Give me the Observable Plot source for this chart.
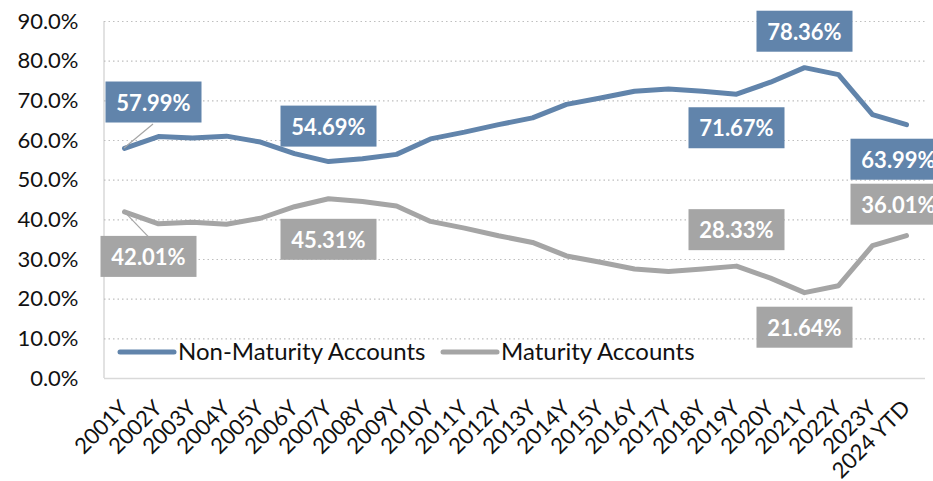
<!DOCTYPE html>
<html>
<head>
<meta charset="utf-8">
<script src="https://cdn.jsdelivr.net/npm/d3@7"></script>
<script src="https://cdn.jsdelivr.net/npm/@observablehq/plot@0.6"></script>
<style>
  html, body { margin: 0; padding: 0; background: white; }
  #chart svg { display: block; }
</style>
</head>
<body>
<div id="chart"></div>
<script>
const years = ["2001Y","2002Y","2003Y","2004Y","2005Y","2006Y","2007Y","2008Y","2009Y","2010Y","2011Y","2012Y","2013Y","2014Y","2015Y","2016Y","2017Y","2018Y","2019Y","2020Y","2021Y","2022Y","2023Y","2024 YTD"];
const nonMaturity = [57.99, 61.0, 60.6, 61.1, 59.6, 56.7, 54.69, 55.4, 56.5, 60.4, 62.1, 64.0, 65.7, 69.1, 70.7, 72.4, 73.0, 72.4, 71.67, 74.7, 78.36, 76.6, 66.5, 63.99];
const maturity = [42.01, 39.0, 39.4, 38.9, 40.4, 43.3, 45.31, 44.6, 43.5, 39.6, 37.9, 36.0, 34.3, 30.9, 29.3, 27.6, 27.0, 27.6, 28.33, 25.3, 21.64, 23.4, 33.5, 36.01];
const seriesNames = ["Non-Maturity Accounts", "Maturity Accounts"];
const yTicks = [0, 10, 20, 30, 40, 50, 60, 70, 80, 90];
const labeledYears = ["2001Y", "2007Y", "2019Y", "2021Y", "2024 YTD"];

const colors = ["#6184ab", "#a5a5a5"];

// label placement offsets (pixels) relative to each labelled point
const labelOffsets = {
  "Non-Maturity Accounts": {"2001Y": [29, -45], "2007Y": [0, -34], "2019Y": [0, 35], "2021Y": [0, -35], "2024 YTD": [-8, 36]},
  "Maturity Accounts": {"2001Y": [24, 46], "2007Y": [0, 42], "2019Y": [0, -35], "2021Y": [0, 36], "2024 YTD": [-8, -30]}
};

const seriesValues = [nonMaturity, maturity];
const rows = [];
seriesNames.forEach((s, si) => years.forEach((y, i) => rows.push({series: s, year: y, value: seriesValues[si][i]})));

const labelMarks = [];
seriesNames.forEach((s, si) => {
  labeledYears.forEach((yr) => {
    const i = years.indexOf(yr);
    const [dx, dy] = labelOffsets[s][yr];
    labelMarks.push(Plot.text([{year: yr, value: seriesValues[si][i]}], {
      x: "year", y: "value", text: d => d.value.toFixed(2) + "%",
      dx, dy, fill: "white", fontSize: 22, fontWeight: "bold",
      textAnchor: "middle", lineAnchor: "middle",
      ariaDescription: "boxlabel-" + si
    }));
  });
});

const chart = Plot.plot({
  width: 933, height: 481,
  marginLeft: 104, marginRight: 8, marginTop: 21, marginBottom: 103,
  style: {fontFamily: "Lato, 'Open Sans', sans-serif", background: "white", color: "#111"},
  x: {type: "point", domain: years, padding: 0.5, label: null},
  y: {domain: [0, 90], label: null},
  color: {domain: seriesNames, range: colors},
  marks: [
    Plot.gridY(yTicks.slice(1), {stroke: "#bfbfbf", strokeOpacity: 1, strokeDasharray: "1.5,3", strokeWidth: 1.2}),
    Plot.ruleY([0], {stroke: "#d9d9d9", strokeWidth: 1.5}),
    Plot.axisY(yTicks, {tickSize: 0, tickPadding: 26, fontSize: 22, tickFormat: d => d.toFixed(1) + "%", fill: "#111", label: null}),
    Plot.axisX({tickSize: 0, tickRotate: -45, tickPadding: 26, fontSize: 22, fill: "#111", label: null}),
    Plot.line(rows, {x: "year", y: "value", z: "series", stroke: "series", strokeWidth: 5, strokeLinecap: "round", strokeLinejoin: "round"}),
    ...labelMarks
  ]
});

document.getElementById("chart").appendChild(chart);

const svg = d3.select(chart);
const xs = chart.scale("x"), ys = chart.scale("y");

// left axis line
svg.insert("line", ":first-child")
  .attr("x1", 104).attr("x2", 104)
  .attr("y1", ys.apply(90)).attr("y2", ys.apply(0))
  .attr("stroke", "#d9d9d9").attr("stroke-width", 1.5);

// boxes behind labels
seriesNames.forEach((s, si) => {
  svg.selectAll(`g[aria-description="boxlabel-${si}"] text`).each(function() {
    const bb = this.getBBox();
    const cx = bb.x + bb.width / 2, cy = bb.y + bb.height / 2;
    const w = 96, h = 41;
    const r = d3.select(this.parentNode).insert("rect", () => this)
      .attr("x", cx - w / 2).attr("y", cy - h / 2)
      .attr("width", w).attr("height", h)
      .attr("fill", colors[si]);
    const t = this.getAttribute("transform");
    if (t) r.attr("transform", t);
  });
});

// leader lines for first year labels
seriesNames.forEach((s, si) => {
  const yr = years[0];
  const [dx, dy] = labelOffsets[s][yr];
  const px = xs.apply(yr), py = ys.apply(seriesValues[si][0]);
  const ey = dy < 0 ? dy + 21 : dy - 21;
  svg.append("line")
    .attr("x1", px).attr("y1", py)
    .attr("x2", px + dx).attr("y2", py + ey)
    .attr("stroke", "#a5a5a5").attr("stroke-width", 1.2);
});

// legend
const lg = svg.append("g").attr("font-family", "Lato, 'Open Sans', sans-serif").attr("font-size", 24).attr("fill", "#111").attr("text-anchor", "start");
const legendItems = [{x: 120, name: seriesNames[0], c: colors[0]}, {x: 443, name: seriesNames[1], c: colors[1]}];
legendItems.forEach(d => {
  lg.append("line").attr("x1", d.x).attr("x2", d.x + 54).attr("y1", 352).attr("y2", 352)
    .attr("stroke", d.c).attr("stroke-width", 5).attr("stroke-linecap", "round");
  lg.append("text").attr("x", d.x + 58).attr("y", 352).attr("dy", "0.35em").text(d.name);
});
</script>
</body>
</html>
